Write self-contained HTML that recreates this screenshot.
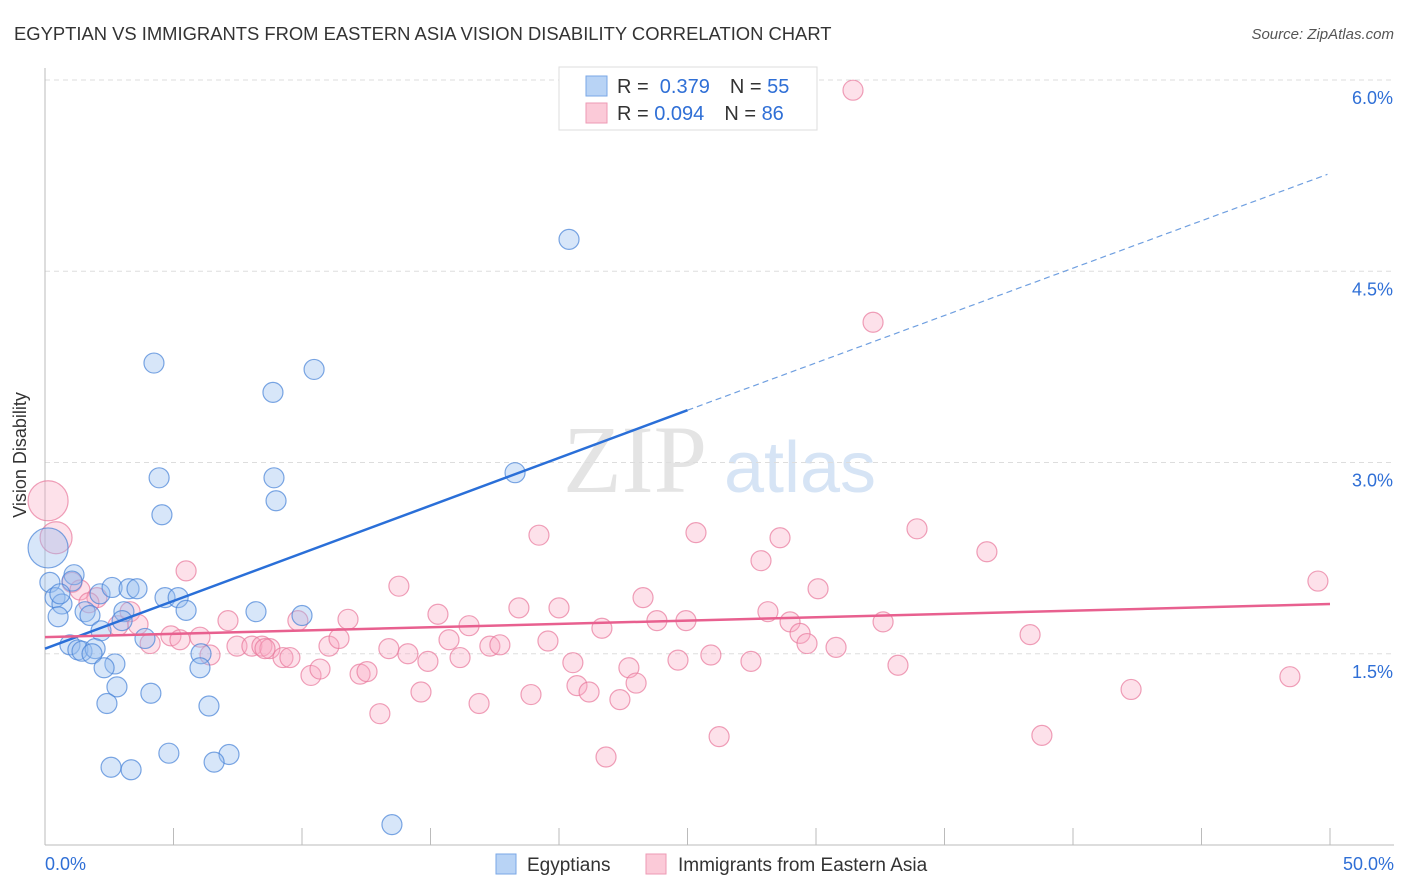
<!DOCTYPE html>
<html><head><meta charset="utf-8"><style>
body{margin:0;background:#fff;font-family:"Liberation Sans",sans-serif}
svg{display:block}
</style></head><body>
<svg id="chart" width="1406" height="892" xmlns="http://www.w3.org/2000/svg">
<text x="14" y="40" font-size="18.4" fill="#333">EGYPTIAN VS IMMIGRANTS FROM EASTERN ASIA VISION DISABILITY CORRELATION CHART</text>
<text x="1394" y="39" font-size="15" fill="#555" font-style="italic" text-anchor="end">Source: ZipAtlas.com</text>
<g>
<text x="635" y="492" font-size="96" font-family="Liberation Serif,serif" fill="#e4e4e4" text-anchor="middle">ZIP</text>
<text x="800" y="492" font-size="72" fill="#d6e4f5" text-anchor="middle">atlas</text>
</g>
<g id="grid"></g>
<g id="axes"></g>
<g id="pink"></g>
<g id="blue"></g>
<g id="trends"></g>
<text x="26" y="455" font-size="18" fill="#333" text-anchor="middle" transform="rotate(-90 26 455)">Vision Disability</text>
<g>
<rect x="559" y="67" width="258" height="63" fill="#fff" stroke="#ddd"/>
<rect x="586" y="76" width="21" height="20" fill="#b8d3f5" stroke="#7aa7e6"/>
<rect x="586" y="103" width="21" height="20" fill="#fbcad8" stroke="#ee9ab4"/>
<text x="617" y="93" font-size="20" fill="#333">R = <tspan fill="#2f6fd6">&#160;0.379</tspan><tspan dx="20" fill="#333">N = </tspan><tspan fill="#2f6fd6">55</tspan></text>
<text x="617" y="120" font-size="20" fill="#333">R = <tspan fill="#2f6fd6">0.094</tspan><tspan dx="20" fill="#333">N = </tspan><tspan fill="#2f6fd6">86</tspan></text>
</g>
<g>
<rect x="496" y="854" width="20" height="20" fill="#b8d3f5" stroke="#7aa7e6"/>
<text x="527" y="871" font-size="19" fill="#333">Egyptians</text>
<rect x="646" y="854" width="20" height="20" fill="#fbcad8" stroke="#ee9ab4"/>
<text x="678" y="871" font-size="19" fill="#333">Immigrants from Eastern Asia</text>
</g>
</svg>
<script>
const yTicks=[1.5,3.0,4.5,6.0];
const yTickLabels=["1.5%","3.0%","4.5%","6.0%"];
const xTickVals=[0,5,10,15,20,25,30,35,40,45,50];
const xEndLabels=["0.0%","50.0%"];
const blueX=[20.39,4.24,10.47,8.87,4.44,8.91,18.29,4.55,8.99,0.12,0.19,0.39,0.66,0.51,1.13,1.05,1.56,1.75,2.14,2.61,3.27,3.58,4.67,5.18,5.49,3.07,3.00,2.18,8.21,10.00,0.97,1.28,1.44,1.95,1.83,2.72,2.30,3.89,6.07,6.03,2.80,4.12,2.41,6.38,4.82,7.16,6.58,2.57,3.35,13.50,0.58];
const blueY=[4.75,3.78,3.73,3.55,2.88,2.88,2.92,2.59,2.70,2.33,2.06,1.94,1.89,1.79,2.12,2.07,1.83,1.80,1.97,2.02,2.01,2.01,1.94,1.94,1.84,1.83,1.76,1.68,1.83,1.80,1.57,1.53,1.52,1.54,1.50,1.42,1.39,1.62,1.50,1.39,1.24,1.19,1.11,1.09,0.72,0.71,0.65,0.61,0.59,0.16,1.97];
const blueR=[10,10,10,10,10,10,10,10,10,20,10,10,10,10,10,10,10,10,10,10,10,10,10,10,10,10,10,10,10,10,10,10,10,10,10,10,10,10,10,10,10,10,10,10,10,10,10,10,10,10,10];
const pinkX=[31.44,32.22,0.12,0.43,5.49,13.77,19.22,25.33,28.60,33.93,36.65,27.86,30.08,49.53,1.05,1.36,2.02,1.71,3.31,3.62,2.84,4.90,5.25,4.09,6.03,7.12,7.47,8.05,8.44,8.75,9.26,9.53,9.84,11.05,11.44,11.79,10.35,10.70,12.26,12.53,13.38,14.12,14.90,15.29,15.72,16.15,16.50,17.31,17.70,18.44,20.00,19.57,20.54,20.70,21.17,21.67,22.37,22.72,23.00,23.27,23.81,24.63,24.94,25.91,27.47,28.13,28.99,29.38,29.65,30.78,32.61,33.19,14.63,16.89,18.91,13.03,26.23,21.83,38.79,42.26,48.44,38.33,6.42,8.56];
const pinkY=[5.92,4.10,2.70,2.41,2.15,2.03,2.43,2.45,2.41,2.48,2.30,2.23,2.01,2.07,2.06,2.00,1.94,1.90,1.83,1.73,1.72,1.64,1.61,1.58,1.63,1.76,1.56,1.56,1.56,1.54,1.47,1.47,1.76,1.56,1.62,1.77,1.33,1.38,1.34,1.36,1.54,1.50,1.44,1.81,1.61,1.47,1.72,1.56,1.57,1.86,1.86,1.60,1.43,1.25,1.20,1.70,1.14,1.39,1.27,1.94,1.76,1.45,1.76,1.49,1.44,1.83,1.75,1.66,1.58,1.55,1.75,1.41,1.20,1.11,1.18,1.03,0.85,0.69,0.86,1.22,1.32,1.65,1.49,1.54];
const pinkBig={2:20,3:16};
const blueTrend=[1.54,3.41,5.26];
const blueTrendX=[0,25,49.9];
const pinkTrend=[1.63,1.89];
const pinkTrendX=[0,50];

const X0=45,X1=1330,YB=845,YT=80;
const sx=v=>X0+(X1-X0)*v/50;
const sy=v=>YB-(YB-YT)*v/6;
const NS="http://www.w3.org/2000/svg";
function mk(tag,attrs,parent){const e=document.createElementNS(NS,tag);for(const k in attrs)e.setAttribute(k,attrs[k]);parent.appendChild(e);return e;}
const grid=document.getElementById('grid'),axes=document.getElementById('axes');
yTicks.forEach((t,i)=>{
 const l=mk('line',{x1:X0,x2:1394,y1:sy(t),y2:sy(t),stroke:'#ddd','stroke-dasharray':'5,4'},grid);
 
 
 const tx=mk('text',{x:1393,y:sy(t)+24,'font-size':18,fill:'#2f6fd6','text-anchor':'end'},axes);
 tx.textContent=yTickLabels[i];
 
 
});
const ya=mk('line',{x1:X0,x2:X0,y1:68,y2:YB,stroke:'#bbb'},axes);


const xa=mk('line',{x1:X0,x2:1394,y1:YB,y2:YB,stroke:'#bbb'},axes);


xTickVals.forEach(t=>{
 const l=mk('line',{x1:sx(t),x2:sx(t),y1:YB,y2:YB-17,stroke:'#bbb'},axes);
 
 
});
const xl0=mk('text',{x:45,y:870,'font-size':18,fill:'#2f6fd6'},axes);xl0.textContent=xEndLabels[0];


const xl1=mk('text',{x:1394,y:870,'font-size':18,fill:'#2f6fd6','text-anchor':'end'},axes);xl1.textContent=xEndLabels[1];


const pg=document.getElementById('pink'),bg=document.getElementById('blue');
pinkX.forEach((v,i)=>{
 const c=mk('circle',{cx:sx(v),cy:sy(pinkY[i]),r:pinkBig[i]||10,fill:'rgba(248,170,195,0.35)',stroke:'rgba(232,120,155,0.7)','stroke-width':1.2},pg);
 
 
});
blueX.forEach((v,i)=>{
 const c=mk('circle',{cx:sx(v),cy:sy(blueY[i]),r:blueR[i],fill:'rgba(150,190,240,0.38)',stroke:'rgba(70,130,215,0.7)','stroke-width':1.2},bg);
 
 
});
const tg=document.getElementById('trends');
const bt1=mk('line',{x1:sx(blueTrendX[0]),y1:sy(blueTrend[0]),x2:sx(blueTrendX[1]),y2:sy(blueTrend[1]),stroke:'#2a6fd8','stroke-width':2.5},tg);


const bt2=mk('line',{x1:sx(blueTrendX[1]),y1:sy(blueTrend[1]),x2:sx(blueTrendX[2]),y2:sy(blueTrend[2]),stroke:'#6f9fe0','stroke-width':1.2,'stroke-dasharray':'6,4'},tg);


const pt=mk('line',{x1:sx(pinkTrendX[0]),y1:sy(pinkTrend[0]),x2:sx(pinkTrendX[1]),y2:sy(pinkTrend[1]),stroke:'#e8608f','stroke-width':2.5},tg);


</script>
</body></html>
